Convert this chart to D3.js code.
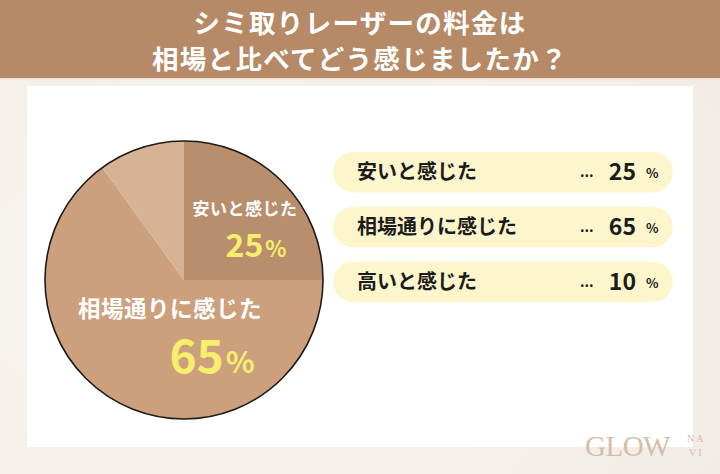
<!DOCTYPE html>
<html><head><meta charset="utf-8">
<script src="https://cdn.jsdelivr.net/npm/d3@7"></script>
<style>html,body{margin:0;padding:0;background:#f5f0eb;}svg{display:block;}</style>
</head><body>
<svg id="c" width="720" height="474"></svg>
<script>
const titleLines = ["シミ取りレーザーの料金は", "相場と比べてどう感じましたか？"];
const categories = ["安いと感じた", "相場通りに感じた", "高いと感じた"];
const values = [25, 65, 10];
const sliceColors = ["#b98e6c", "#cca07c", "#d6b394"];

const svg = d3.select("#c");
const font = "'Noto Sans CJK JP', 'Noto Sans', sans-serif";

// background
const defs = svg.append("defs");
const rg = defs.append("radialGradient").attr("id","bg").attr("cx","30%").attr("cy","60%").attr("r","90%");
rg.append("stop").attr("offset","0%").attr("stop-color","#f8f5f1");
rg.append("stop").attr("offset","100%").attr("stop-color","#f1ebe4");
svg.append("rect").attr("width",720).attr("height",474).attr("fill","url(#bg)");

// header
svg.append("rect").attr("x",0).attr("y",0).attr("width",720).attr("height",78).attr("fill","#b68a67");
svg.append("rect").attr("x",0).attr("y",78).attr("width",720).attr("height",1.5).attr("fill","#efe0d2");
svg.selectAll("text.title").data(titleLines).join("text")
  .attr("class","title")
  .attr("x",360).attr("y",(d,i)=>33+i*36)
  .attr("text-anchor","middle")
  .attr("fill","#ffffff").attr("font-family",font).attr("font-weight",700)
  .attr("font-size",26.5).attr("letter-spacing",1.3)
  .text(d=>d);

// white panel
svg.append("rect").attr("x",27).attr("y",86).attr("width",666).attr("height",361).attr("fill","#ffffff");

// pie
const cx = 184, cy = 280, R = 139;
const pie = d3.pie().sort(null).value(d=>d);
const arcs = pie(values);
const arc = d3.arc().innerRadius(0).outerRadius(R);
const g = svg.append("g").attr("transform",`translate(${cx},${cy})`);
g.selectAll("path").data(arcs).join("path")
  .attr("d",arc).attr("fill",(d,i)=>sliceColors[i]);
g.append("circle").attr("r",R).attr("fill","none").attr("stroke","#1e1a17").attr("stroke-width",1.6);

// pie labels
const pieLabels = [
  {i:0, lx:61, ly:-65, ls:17, vx:72, vy:-23, vs:32, ps:22},
  {i:1, lx:-14, ly:37, ls:22.5, vx:28, vy:93, vs:46, ps:30}
];
pieLabels.forEach(p=>{
  g.append("text").attr("x",p.lx).attr("y",p.ly).attr("text-anchor","middle")
    .attr("fill","#ffffff").attr("font-family",font).attr("font-weight",700)
    .attr("font-size",p.ls).attr("letter-spacing",0.5).text(categories[p.i]);
  const t = g.append("text").attr("x",p.vx).attr("y",p.vy).attr("text-anchor","middle")
    .attr("fill","#f7ee6c").attr("font-family",font).attr("font-weight",700);
  t.append("tspan").attr("font-size",p.vs).text(values[p.i]);
  t.append("tspan").attr("font-size",p.ps).attr("dx",2).text("%");
});

// legend pills
const y = d3.scaleBand().domain(categories).range([152,302]).paddingInner(0.26).paddingOuter(0);
const lg = svg.append("g");
const rows = lg.selectAll("g").data(categories).join("g")
  .attr("transform",d=>`translate(0,${y(d)})`);
const h = y.bandwidth();
rows.append("rect").attr("x",333).attr("y",0).attr("width",340).attr("height",h)
  .attr("rx",h/2).attr("fill","#fdf6cc");
rows.append("text").attr("x",357).attr("y",h/2+7).attr("fill","#1c1c1c")
  .attr("font-family",font).attr("font-weight",700).attr("font-size",20).text(d=>d);
rows.append("text").attr("x",580).attr("y",h/2+5).attr("fill","#1c1c1c")
  .attr("font-family",font).attr("font-weight",700).attr("font-size",14).text("...");
rows.append("text").attr("x",636).attr("y",h/2+8).attr("text-anchor","end").attr("fill","#1c1c1c")
  .attr("font-family",font).attr("font-weight",700).attr("font-size",23).text((d,i)=>values[i]);
rows.append("text").attr("x",646).attr("y",h/2+6).attr("fill","#1c1c1c")
  .attr("font-family",font).attr("font-weight",700).attr("font-size",13).text("%");

// logo
const serif = "'Liberation Serif','DejaVu Serif',serif";
const logo = svg.append("g").attr("fill","#d6bda9");
logo.append("text").attr("x",585).attr("y",456).attr("font-family",serif)
  .attr("font-size",29).attr("letter-spacing",-0.5).text("GLOW");
logo.append("text").attr("x",687).attr("y",442).attr("font-family",serif)
  .attr("font-size",10).attr("letter-spacing",2).text("NA");
logo.append("text").attr("x",689).attr("y",456).attr("font-family",serif)
  .attr("font-size",10).attr("letter-spacing",2).text("VI");
</script>
</body></html>
